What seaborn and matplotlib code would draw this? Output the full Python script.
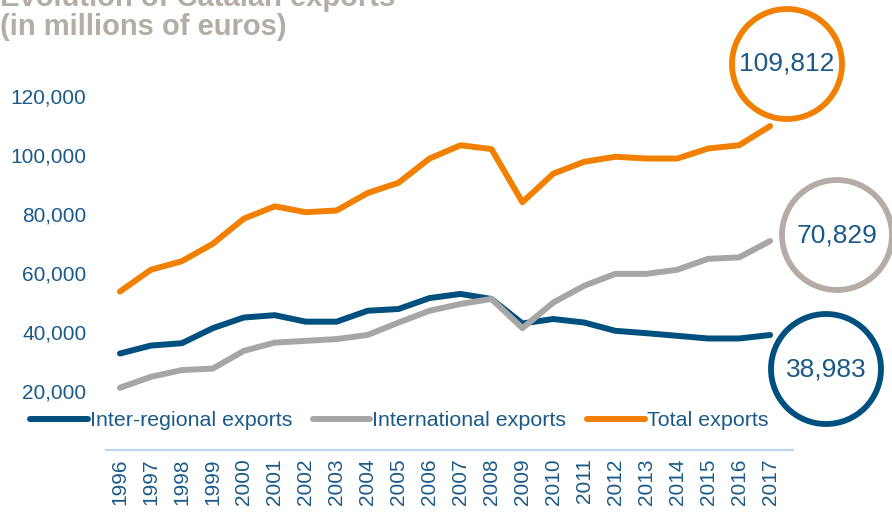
import pandas as pd
import seaborn as sns
import matplotlib.pyplot as plt
from matplotlib.patches import Ellipse
from matplotlib.ticker import FuncFormatter

# values (millions of euros)
years = list(range(1996, 2018))
inter_regional = [32700, 35400, 36200, 41300, 44900, 45700, 43500, 43500, 47200, 47800, 51500,
                  52900, 51200, 42900, 44400, 43200, 40400, 39600, 38700, 37800, 37800, 38983]
international = [21100, 24800, 27100, 27600, 33600, 36400, 37000, 37600, 39000, 43200, 47200,
                 49500, 51200, 41300, 50000, 55700, 59700, 59700, 61100, 64800, 65300, 70829]
total = [53700, 61100, 64000, 69900, 78400, 82600, 80600, 81200, 87100, 90600, 98800,
         103300, 102000, 84000, 93700, 97700, 99400, 98800, 98800, 102200, 103300, 109812]
series_names = ["Inter-regional exports", "International exports", "Total exports"]
end_labels = ["38,983", "70,829", "109,812"]
yticks = [20000, 40000, 60000, 80000, 100000, 120000]

BLUE = "#00507f"
GREY = "#a6a6a6"
ORANGE = "#f28000"
TEXT = "#1b5a88"
TITLE = "#b4ada6"
CIRCLE_GREY = "#b5ada5"

frame = pd.DataFrame({
    "year": years * 3,
    "value": inter_regional + international + total,
    "series": [s for s in series_names for _ in years],
})

sns.set_theme(style="white")
plt.rcParams["font.family"] = ["Liberation Sans", "DejaVu Sans"]

W, H = 892, 512
fig = plt.figure(figsize=(W / 100, H / 100), dpi=100)
ax = fig.add_axes([106 / W, 1 - 450 / H, (793 - 106) / W, (450 - 60) / H])

sns.lineplot(data=frame, x="year", y="value", hue="series", hue_order=series_names,
             palette=[BLUE, GREY, ORANGE], linewidth=4.3, legend=False, ax=ax,
             solid_capstyle="round")
for ln in ax.lines:
    ln.set_clip_on(False)

ax.set_xlim(1995.55, 2017.74)
ax.set_ylim(0, 132200)
ax.set_xticks(years)
ax.set_xticklabels([str(y) for y in years], rotation=90, fontsize=15, color=TEXT)
ax.set_yticks(yticks)
ax.yaxis.set_major_formatter(FuncFormatter(lambda v, p: f"{v:,.0f}"))
ax.tick_params(axis="y", length=0, pad=14, labelsize=15, labelcolor=TEXT)
ax.tick_params(axis="x", length=0, pad=6)
ax.set_xlabel("")
ax.set_ylabel("")
for side in ["top", "right", "left"]:
    ax.spines[side].set_visible(False)
ax.spines["bottom"].set_color("#bdd7ee")
ax.spines["bottom"].set_linewidth(1.6)

# legend below the lines
leg = fig.legend(ax.lines[:3], series_names, loc="center left", bbox_to_anchor=(30 / W, 1 - 421 / H),
                 ncol=3, frameon=False, fontsize=15.4, handlelength=2.7, handletextpad=0.1,
                 columnspacing=0.95, borderaxespad=0, borderpad=0)
for t in leg.get_texts():
    t.set_color(TEXT)

# title, partly cut at the top edge as in the reference
fig.text(0, 1 - 6 / H, "Evolution of Catalan exports", fontsize=21, fontweight="bold",
         color=TITLE, va="baseline", ha="left")
fig.text(0, 1 - 27 / H, "(in millions of euros)", fontsize=21, fontweight="bold",
         color=TITLE, va="center", ha="left")

# end-value circles
circles = [((826, 369), 55, BLUE), ((837, 235), 55, CIRCLE_GREY), ((787, 64), 55, ORANGE)]
for ((cx, cy), r, col), lab in zip(circles, end_labels):
    fig.add_artist(Ellipse((cx / W, 1 - cy / H), 2 * r / W, 2 * r / H, transform=fig.transFigure,
                           fill=False, ec=col, lw=4.2))
    fig.text(cx / W, 1 - cy / H, lab, fontsize=19, color=TEXT, ha="center", va="center")

fig.savefig("out.png", dpi=100)
